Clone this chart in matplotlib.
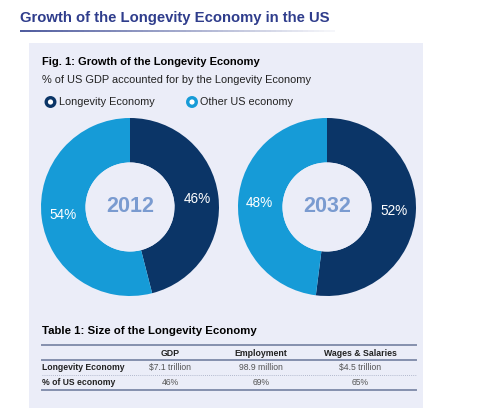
import matplotlib
matplotlib.use('Agg')
import matplotlib.pyplot as plt
import numpy as np
from matplotlib.patches import Rectangle, Circle
from matplotlib.collections import LineCollection

plt.rcParams['font.family'] = ['Liberation Sans', 'DejaVu Sans']

## DATA
years = ['2012', '2032']
longevity_share = [46, 52]
other_share = [54, 48]
legend_labels = ['Longevity Economy', 'Other US economy']
col_headers = ['GDP', 'Employment', 'Wages & Salaries']
row_labels = ['Longevity Economy', '% of US economy']
table_cells = [['$7.1 trillion', '98.9 million', '$4.5 trillion'],
               ['46%', '69%', '65%']]

NAVY = '#0b3567'
LIGHT = '#169bd7'
PANEL = '#ebedf8'
W, H = 504, 420

fig = plt.figure(figsize=(W / 100, H / 100), dpi=100)
bg = fig.add_axes([0, 0, 1, 1])
bg.set_xlim(0, W)
bg.set_ylim(H, 0)
bg.axis('off')

## HEADER
bg.text(20, 18, 'Growth of the Longevity Economy in the US', fontsize=10.7,
        fontweight='bold', color='#2f3d8c', va='center', ha='left')
# fading underline
xs = np.linspace(20, 335, 60)
segs = [[(xs[i], 31), (xs[i + 1], 31)] for i in range(len(xs) - 1)]
alphas = np.linspace(1, 0.05, len(segs))
cols = [(0.18, 0.24, 0.55, a) for a in alphas]
bg.add_collection(LineCollection(segs, colors=cols, linewidths=1.2))

## PANEL
bg.add_patch(Rectangle((29, 43), 394, 365, facecolor=PANEL, edgecolor='none'))
bg.text(42, 62, 'Fig. 1: Growth of the Longevity Economy', fontsize=8.0,
        fontweight='bold', color='black', va='center')
bg.text(42, 80, '% of US GDP accounted for by the Longevity Economy', fontsize=7.9,
        color='#222222', va='center')

## LEGEND
for cx, tx, c, lab in [(50.5, 59, NAVY, legend_labels[0]), (192, 200, LIGHT, legend_labels[1])]:
    bg.add_patch(Circle((cx, 102), 4.3, facecolor='white', edgecolor=c, linewidth=2.4))
    bg.text(tx, 102, lab, fontsize=7.8, color='#222222', va='center')

## DONUTS
centers = [(130, 207), (327, 207)]
R = 89
for (cx, cy), yr, a, b in zip(centers, years, longevity_share, other_share):
    ax = fig.add_axes([(cx - R) / W, (H - cy - R) / H, 2 * R / W, 2 * R / H])
    ax.pie([a, b], colors=[NAVY, LIGHT], startangle=90, counterclock=False,
           radius=1, wedgeprops=dict(width=0.5, edgecolor='none'),
           autopct=lambda p: f'{p:.0f}%', pctdistance=0.76,
           textprops=dict(color='white', fontsize=9.8))
    ax.set_aspect('equal')
    ax.set_xlim(-1, 1)
    ax.set_ylim(-1, 1)
    ax.add_patch(Circle((0, 0), 0.5, facecolor=PANEL, edgecolor='none'))
    ax.text(0, 0, yr, fontsize=15.5, fontweight='bold', color='#7a9bd0',
            ha='center', va='center')

## TABLE
bg.text(42, 331, 'Table 1: Size of the Longevity Economy', fontsize=8.2,
        fontweight='bold', color='black', va='center')
line_c = '#8590ad'
bg.plot([42, 416], [345, 345], color=line_c, lw=1.4)
bg.plot([42, 416], [360, 360], color=line_c, lw=1.4)
bg.plot([42, 416], [375, 375], color='#a0a8c0', lw=0.6, ls=(0, (1, 1.5)))
bg.plot([42, 416], [389.5, 389.5], color=line_c, lw=1.4)
col_x = [170, 261, 360]
for x, h in zip(col_x, col_headers):
    bg.text(x, 353, h, fontsize=6.3, fontweight='bold', color='#222222',
            ha='center', va='center')
for ry, rl, row in zip([367.5, 382.5], row_labels, table_cells):
    bg.text(42, ry, rl, fontsize=6.2, fontweight='bold', color='#222222', va='center')
    for x, v in zip(col_x, row):
        bg.text(x, ry, v, fontsize=6.2, color='#555555', ha='center', va='center')

fig.savefig('out.png', dpi=100)
